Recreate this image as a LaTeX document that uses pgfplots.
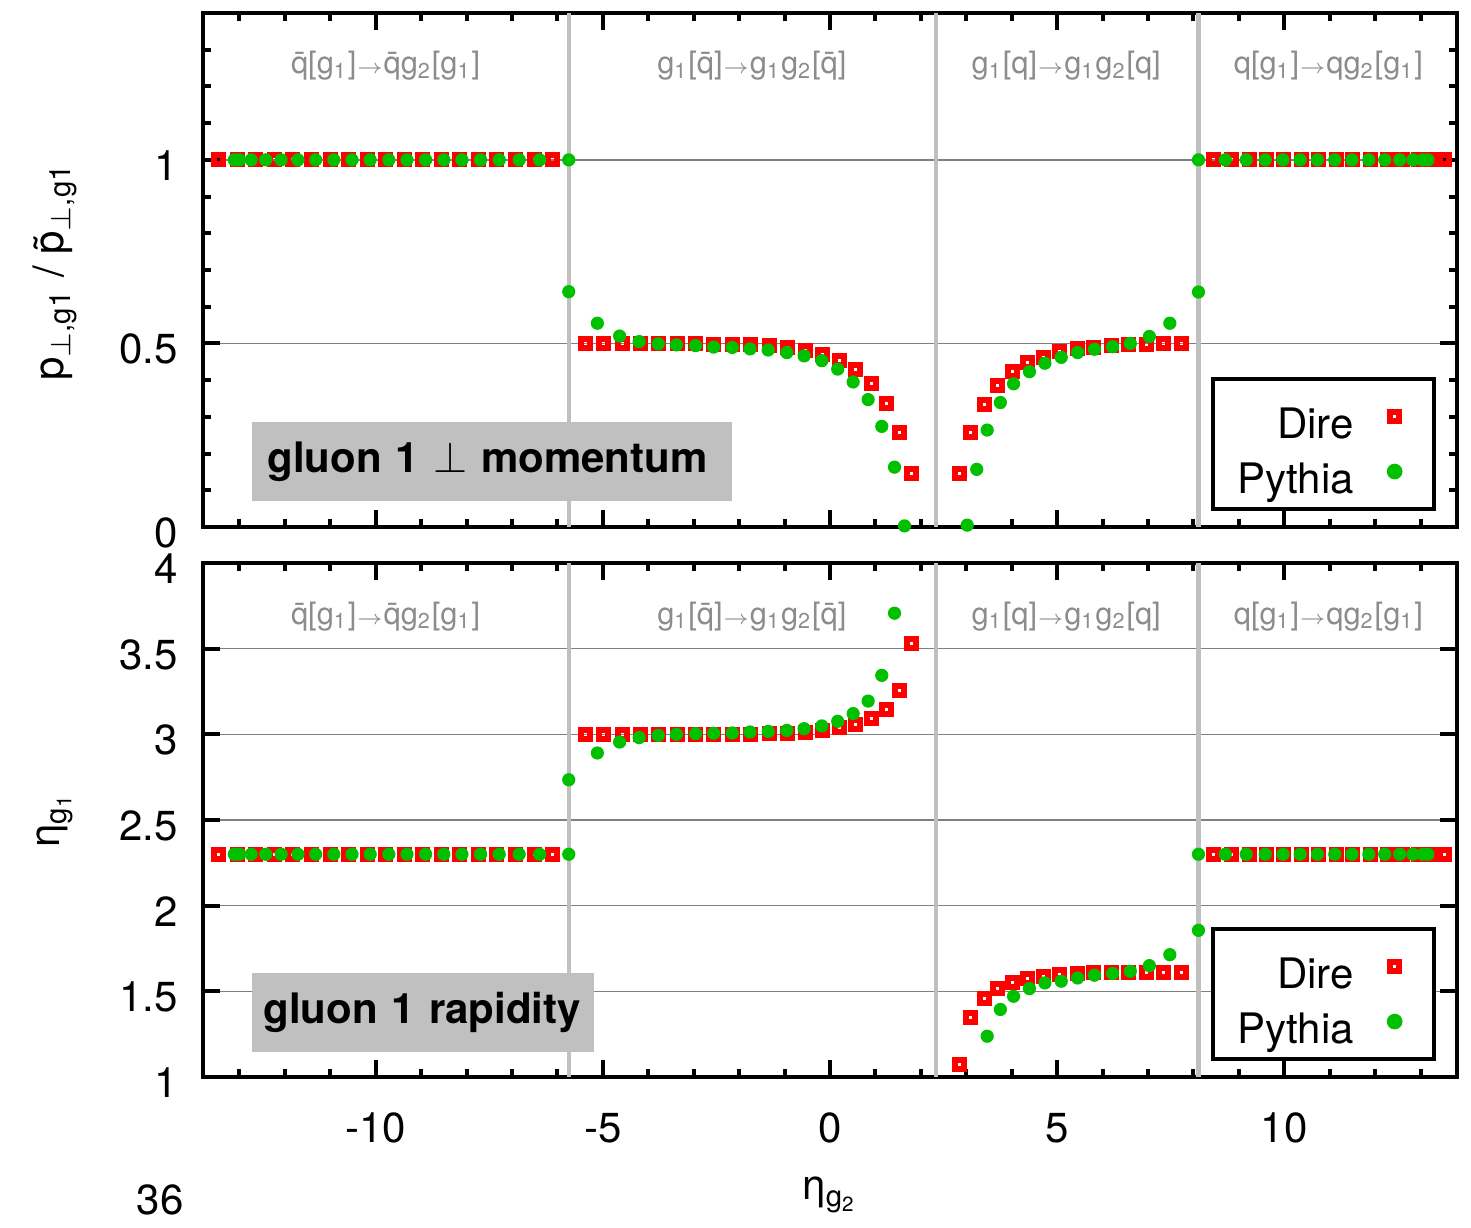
\documentclass[border=0pt]{standalone}
\usepackage{pgfplots}
\pgfplotsset{compat=1.18}
\usepackage{fontspec}
\setmainfont{TeX Gyre Heros}

\definecolor{direred}{RGB}{255,0,0}
\definecolor{pythiagreen}{RGB}{0,192,0}
\definecolor{sepgray}{RGB}{192,192,192}
\definecolor{lblgray}{RGB}{140,140,140}
\definecolor{boxgray}{RGB}{192,192,192}
\definecolor{gridgray}{RGB}{128,128,128}

\newcommand{\fs}{\fontsize{10.5}{12}\selectfont}
\newcommand{\fl}{\fontsize{7.7}{9}\selectfont}
\newcommand{\qb}{\={q}}
\newcommand{\arr}{$\scriptstyle\rightarrow$}
\newcommand{\sub}[1]{\textsubscript{#1}}

\pgfplotsset{
  panel/.style={
    scale only axis, width=313.5pt, height=128.5pt,
    xmin=-13.8, xmax=13.8, clip=false,
    axis line style={line width=1pt},
    tick align=inside,
    major tick length=4.25pt, minor tick length=2pt,
    tick style={black, line width=1pt},
    xtick={-10,-5,0,5,10},
    minor xtick={-13,-12,...,13},
    ymajorgrids,
    grid style={gridgray, line width=0.4pt},
    tick label style={font=\fs},
    yticklabel style={xshift=-2.75pt, yshift=-1.5pt},
    xticklabel style={yshift=-5.5pt},
    legend style={at={(0.983,0.031)}, anchor=south east, draw=black, line width=1pt, fill=white,
      inner xsep=6pt, inner ysep=4pt, column sep=6.5pt, row sep=3pt,
      nodes={inner sep=0pt, text height=10.75pt, text depth=0pt, font=\fs}},
    legend plot pos=right, legend cell align=right,
    legend image code/.code={\path (-3pt,0pt) (3pt,0pt); \draw[##1] plot coordinates {(0pt,0pt)};},
  },
  dire/.style={only marks, mark=square, mark size=1.125pt, line width=1.5pt, color=direred},
  pythia/.style={only marks, mark=*, mark size=1.45pt, color=pythiagreen},
  sepline/.style={sepgray, line width=1.1pt, forget plot},
}
\tikzset{
  proc/.style={font=\fl, text=lblgray, anchor=base},
  tag/.style={fill=boxgray, anchor=south west, inner ysep=0pt, minimum height=19.75pt, align=left, font=\bfseries\fs},
}

\begin{document}
\begin{tikzpicture}
\useasboundingbox (0pt,0pt) rectangle (367.75pt,-307pt);

% top panel: transverse momentum ratio
\begin{axis}[panel, at={(50.75pt,-131.75pt)}, anchor=south west,
  ymin=0, ymax=1.4, ytick={0,0.5,1}, yticklabels={0,0.5,1},
  minor ytick={0.1,0.2,0.3,0.4,0.6,0.7,0.8,0.9,1.1,1.2,1.3},
  xticklabel=\empty]
\addplot[sepline] coordinates {(-5.75,0) (-5.75,1.4)};
\addplot[sepline] coordinates {(2.33,0) (2.33,1.4)};
\addplot[sepline] coordinates {(8.11,0) (8.11,1.4)};

\addplot[dire] coordinates {
(-13.46,1)(-13.05,1)(-12.64,1)(-12.23,1)(-11.82,1)(-11.41,1)(-11.00,1)(-10.60,1)(-10.19,1)(-9.78,1)
(-9.37,1)(-8.96,1)(-8.55,1)(-8.15,1)(-7.74,1)(-7.33,1)(-6.92,1)(-6.51,1)(-6.10,1)
(-5.38,0.500)(-4.98,0.500)(-4.57,0.500)(-4.17,0.500)(-3.77,0.500)(-3.36,0.499)(-2.96,0.499)(-2.56,0.498)
(-2.15,0.497)(-1.75,0.496)(-1.34,0.493)(-0.94,0.490)(-0.55,0.482)(-0.16,0.469)(0.21,0.453)(0.57,0.428)
(0.92,0.392)(1.25,0.337)(1.54,0.258)(1.80,0.146)
(2.84,0.146)(3.09,0.256)(3.39,0.333)(3.68,0.386)(4.02,0.423)(4.35,0.447)(4.70,0.463)(5.06,0.477)
(5.44,0.485)(5.81,0.490)(6.20,0.493)(6.58,0.496)(6.96,0.498)(7.34,0.499)(7.74,0.500)
(8.44,1)(8.83,1)(9.23,1)(9.60,1)(9.98,1)(10.37,1)(10.76,1)(11.14,1)(11.51,1)(11.89,1)
(12.26,1)(12.61,1)(12.96,1)(13.22,1)(13.52,1)
};
\addlegendentry{Dire}
\addplot[pythia] coordinates {
(-13.11,1)(-13.00,1)(-12.74,1)(-12.42,1)(-12.08,1)(-11.71,1)(-11.32,1)(-10.92,1)(-10.52,1)(-10.12,1)
(-9.71,1)(-9.31,1)(-8.90,1)(-8.50,1)(-8.10,1)(-7.69,1)(-7.28,1)(-6.84,1)(-6.39,1)(-5.75,1)
(-5.75,0.641)(-5.12,0.555)(-4.63,0.520)(-4.20,0.505)(-3.78,0.499)(-3.38,0.496)(-2.96,0.494)(-2.56,0.490)
(-2.15,0.489)(-1.76,0.485)(-1.36,0.482)(-0.95,0.475)(-0.57,0.466)(-0.18,0.453)(0.17,0.430)(0.51,0.395)
(0.84,0.347)(1.14,0.274)(1.42,0.163)(1.64,0.003)
(3.02,0.005)(3.23,0.157)(3.46,0.264)(3.75,0.339)(4.04,0.390)(4.39,0.423)(4.73,0.446)(5.09,0.462)
(5.45,0.475)(5.82,0.484)(6.22,0.491)(6.61,0.500)(7.03,0.519)(7.48,0.555)(8.11,0.640)
(8.11,1)(8.70,1)(9.16,1)(9.58,1)(9.97,1)(10.35,1)(10.73,1)(11.11,1)(11.49,1)(11.86,1)
(12.21,1)(12.54,1)(12.83,1)(13.05,1)(13.16,1)
};
\addlegendentry{Pythia}

\node[proc] at (axis cs:-9.78,1.234) {\qb[g\sub{1}]\arr\qb g\sub{2}[g\sub{1}]};
\node[proc] at (axis cs:-1.72,1.234) {g\sub{1}[\qb]\arr g\sub{1}g\sub{2}[\qb]};
\node[proc] at (axis cs:5.20,1.234) {g\sub{1}[q]\arr g\sub{1}g\sub{2}[q]};
\node[proc] at (axis cs:10.97,1.234) {q[g\sub{1}]\arr qg\sub{2}[g\sub{1}]};
\node[tag, inner xsep=3.75pt, text width=112.5pt] at (axis cs:-12.73,0.068) {gluon 1 $\perp$ momentum};
\end{axis}

% bottom panel: rapidity
\begin{axis}[panel, at={(50.75pt,-269.25pt)}, anchor=south west,
  ymin=1, ymax=4, ytick={1,1.5,2,2.5,3,3.5,4}, yticklabels={1,1.5,2,2.5,3,3.5,4},
  xticklabels={-10,-5,0,5,10}]
\addplot[sepline] coordinates {(-5.75,1) (-5.75,4)};
\addplot[sepline] coordinates {(2.33,1) (2.33,4)};
\addplot[sepline] coordinates {(8.11,1) (8.11,4)};

\addplot[dire] coordinates {
(-13.46,2.3)(-13.05,2.3)(-12.64,2.3)(-12.23,2.3)(-11.82,2.3)(-11.41,2.3)(-11.00,2.3)(-10.60,2.3)(-10.19,2.3)(-9.78,2.3)
(-9.37,2.3)(-8.96,2.3)(-8.55,2.3)(-8.15,2.3)(-7.74,2.3)(-7.33,2.3)(-6.92,2.3)(-6.51,2.3)(-6.10,2.3)
(-5.38,3.000)(-4.98,3.000)(-4.57,3.000)(-4.17,3.000)(-3.77,3.000)(-3.36,3.000)(-2.96,3.000)(-2.56,3.000)
(-2.15,3.001)(-1.75,3.001)(-1.34,3.002)(-0.94,3.005)(-0.55,3.012)(-0.16,3.022)(0.21,3.041)(0.57,3.060)
(0.92,3.090)(1.25,3.144)(1.54,3.255)(1.80,3.533)
(2.84,1.073)(3.09,1.345)(3.39,1.456)(3.68,1.516)(4.02,1.549)(4.35,1.572)(4.70,1.588)(5.06,1.598)
(5.44,1.604)(5.81,1.607)(6.20,1.609)(6.58,1.610)(6.96,1.611)(7.34,1.611)(7.74,1.611)
(8.44,2.3)(8.83,2.3)(9.23,2.3)(9.60,2.3)(9.98,2.3)(10.37,2.3)(10.76,2.3)(11.14,2.3)(11.51,2.3)(11.89,2.3)
(12.26,2.3)(12.61,2.3)(12.96,2.3)(13.22,2.3)(13.52,2.3)
};
\addlegendentry{Dire}
\addplot[pythia] coordinates {
(-13.11,2.3)(-13.00,2.3)(-12.74,2.3)(-12.42,2.3)(-12.08,2.3)(-11.71,2.3)(-11.32,2.3)(-10.92,2.3)(-10.52,2.3)(-10.12,2.3)
(-9.71,2.3)(-9.31,2.3)(-8.90,2.3)(-8.50,2.3)(-8.10,2.3)(-7.69,2.3)(-7.28,2.3)(-6.84,2.3)(-6.39,2.3)(-5.75,2.3)
(-5.75,2.735)(-5.12,2.891)(-4.63,2.955)(-4.20,2.981)(-3.78,2.994)(-3.38,3.000)(-2.96,3.004)(-2.56,3.006)
(-2.15,3.008)(-1.76,3.014)(-1.36,3.017)(-0.95,3.023)(-0.57,3.033)(-0.18,3.049)(0.17,3.076)(0.51,3.121)
(0.84,3.194)(1.14,3.344)(1.42,3.707)
(3.46,1.238)(3.75,1.394)(4.04,1.471)(4.39,1.516)(4.73,1.549)(5.09,1.559)(5.45,1.578)(5.82,1.594)
(6.22,1.604)(6.61,1.617)(7.03,1.650)(7.48,1.714)(8.11,1.856)
(8.11,2.3)(8.70,2.3)(9.16,2.3)(9.58,2.3)(9.97,2.3)(10.35,2.3)(10.73,2.3)(11.11,2.3)(11.49,2.3)(11.86,2.3)
(12.21,2.3)(12.54,2.3)(12.83,2.3)(13.05,2.3)(13.16,2.3)
};
\addlegendentry{Pythia}

\node[proc] at (axis cs:-9.78,3.64) {\qb[g\sub{1}]\arr\qb g\sub{2}[g\sub{1}]};
\node[proc] at (axis cs:-1.72,3.64) {g\sub{1}[\qb]\arr g\sub{1}g\sub{2}[\qb]};
\node[proc] at (axis cs:5.20,3.64) {g\sub{1}[q]\arr g\sub{1}g\sub{2}[q]};
\node[proc] at (axis cs:10.97,3.64) {q[g\sub{1}]\arr qg\sub{2}[g\sub{1}]};
\node[tag, inner xsep=2.75pt, text width=80pt] at (axis cs:-12.73,1.143) {gluon 1 rapidity};
\end{axis}

% axis titles and page number
\node[rotate=90, font=\fs] at (13.75pt,-68pt) {p\sub{$\perp$,g1} / \~{p}\sub{$\perp$,g1}};
\node[rotate=90, font=\fs] at (13.75pt,-205pt) {η\sub{g\sub{1}}};
\node[font=\fs] at (207.5pt,-298.75pt) {η\sub{g\sub{2}}};
\node[font=\fs] at (40pt,-300pt) {36};
\end{tikzpicture}
\end{document}
